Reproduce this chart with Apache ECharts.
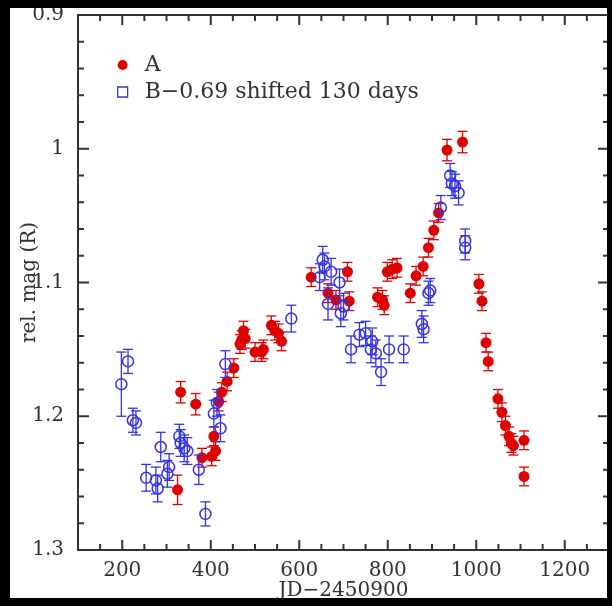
<!DOCTYPE html>
<html>
<head>
<meta charset="utf-8">
<script src="https://cdn.jsdelivr.net/npm/echarts@6/dist/echarts.min.js"></script>
<style>
  html, body { margin: 0; padding: 0; background: #000; }
  #wrap { position: relative; width: 612px; height: 606px; overflow: hidden; }
  #chart { width: 612px; height: 606px; }
  .edge { position: absolute; background: #000; z-index: 10; pointer-events: none; }
</style>
</head>
<body>
<div id="wrap">
  <div id="chart"></div>
  <!-- 外侧黑边 -->
  <div class="edge" style="left:0;top:0;width:10px;height:606px"></div>
  <div class="edge" style="left:0;top:0;width:612px;height:8px"></div>
  <div class="edge" style="left:0;top:598px;width:612px;height:8px"></div>
  <div class="edge" style="left:607px;top:0;width:5px;height:606px"></div>
</div>
<script>
// 数据：A 像 (红色实心) 与 B 像 (蓝色空心，B-0.69，平移 130 天)
var aDays = [325, 332, 366, 380, 402, 407, 411, 418, 425, 437, 452, 466, 470, 474, 478,
  500, 515, 519, 537, 545, 553, 560, 627, 665, 683, 709, 713, 777, 788, 792, 799, 810,
  821, 851, 864, 880, 892, 904, 915, 934, 969, 1006, 1013, 1022, 1027, 1049, 1058, 1066,
  1074, 1079, 1084, 1108, 1108]
var aMag = [1.255, 1.182, 1.191, 1.231, 1.230, 1.215, 1.226, 1.189, 1.182, 1.174, 1.164,
  1.146, 1.143, 1.136, 1.142, 1.152, 1.152, 1.150, 1.132, 1.136, 1.138, 1.144, 1.096,
  1.108, 1.113, 1.092, 1.114, 1.111, 1.113, 1.117, 1.092, 1.090, 1.089, 1.108, 1.095,
  1.088, 1.074, 1.061, 1.048, 1.001, 0.995, 1.101, 1.114, 1.145, 1.159, 1.187, 1.197,
  1.207, 1.215, 1.220, 1.222, 1.218, 1.245]
var aErr = [0.011, 0.008, 0.008, 0.007, 0.007, 0.007, 0.007, 0.007, 0.007, 0.007, 0.007,
  0.007, 0.007, 0.007, 0.007, 0.007, 0.007, 0.007, 0.007, 0.007, 0.007, 0.007, 0.007,
  0.007, 0.007, 0.007, 0.007, 0.007, 0.007, 0.007, 0.007, 0.007, 0.007, 0.007, 0.007,
  0.007, 0.007, 0.007, 0.007, 0.008, 0.008, 0.007, 0.007, 0.007, 0.007, 0.007, 0.007,
  0.007, 0.007, 0.007, 0.007, 0.007, 0.007]

var bDays = [198, 213, 224, 231, 254, 276, 280, 287, 302, 306, 329, 332, 340, 347, 373,
  388, 407, 414, 422, 433, 582, 646, 653, 657, 665, 672, 691, 694, 700, 717, 736, 750,
  762, 765, 773, 785, 803, 836, 877, 881, 892, 896, 920, 941, 945, 952, 960, 975, 975]
var bMag = [1.176, 1.159, 1.203, 1.205, 1.246, 1.248, 1.254, 1.223, 1.243, 1.238, 1.215,
  1.220, 1.224, 1.226, 1.240, 1.273, 1.198, 1.190, 1.209, 1.161, 1.127, 1.096, 1.083,
  1.088, 1.116, 1.092, 1.100, 1.123, 1.118, 1.150, 1.139, 1.138, 1.150, 1.144, 1.153,
  1.167, 1.150, 1.150, 1.131, 1.135, 1.108, 1.106, 1.044, 1.020, 1.026, 1.028, 1.033,
  1.069, 1.074]
var bErr = [0.024, 0.009, 0.009, 0.009, 0.010, 0.010, 0.010, 0.011, 0.010, 0.010, 0.009,
  0.010, 0.010, 0.010, 0.011, 0.009, 0.010, 0.010, 0.010, 0.010, 0.010, 0.010, 0.010,
  0.010, 0.012, 0.010, 0.010, 0.010, 0.010, 0.010, 0.009, 0.009, 0.010, 0.010, 0.010,
  0.010, 0.010, 0.010, 0.010, 0.010, 0.009, 0.009, 0.009, 0.009, 0.009, 0.009, 0.009,
  0.009, 0.009]

// 刻度值
var xMajor = [200, 400, 600, 800, 1000, 1200]
var xMinor = [150, 250, 300, 350, 450, 500, 550, 650, 700, 750, 850, 900, 950,
  1050, 1100, 1150, 1250]
var yMajor = [1.0, 1.1, 1.2]
var yMinor = [0.92, 0.94, 0.96, 0.98, 1.02, 1.04, 1.06, 1.08, 1.12, 1.14, 1.16, 1.18,
  1.22, 1.24, 1.26, 1.28]

var aName = 'A'
var bName = 'B\u22120.69 shifted 130 days'

var FONT = 'DejaVu Serif'
var RED = '#e00000'
var BLUE = '#3434e6'
var AXIS = '#333'
var X0 = 100, X1 = 1300, Y0 = 0.9, Y1 = 1.3

function pts(xs, ys) {
  return xs.map(function(x, i) { return [x, ys[i]] })
}
function errs(xs, ys, es) {
  return xs.map(function(x, i) { return [x, ys[i], es[i]] })
}

// 误差棒：竖线加上下短横
function errorBar(color) {
  return function(params, api) {
    var x = api.value(0), y = api.value(1), e = api.value(2)
    var hi = api.coord([x, y - e])
    var lo = api.coord([x, y + e])
    var w = 5
    var st = { stroke: color, lineWidth: 1.3 }
    return {
      type: 'group',
      children: [
        { type: 'line', shape: { x1: hi[0], y1: hi[1], x2: lo[0], y2: lo[1] }, style: st },
        { type: 'line', shape: { x1: hi[0] - w, y1: hi[1], x2: hi[0] + w, y2: hi[1] }, style: st },
        { type: 'line', shape: { x1: lo[0] - w, y1: lo[1], x2: lo[0] + w, y2: lo[1] }, style: st }
      ]
    }
  }
}

// 内向刻度（四边），位置由坐标轴换算
var tickStyle = { stroke: AXIS, lineWidth: 2 }
function xTick(params, api) {
  var v = api.value(0), len = api.value(2)
  var b = api.coord([v, Y1]), t = api.coord([v, Y0])
  return {
    type: 'group',
    children: [
      { type: 'line', shape: { x1: b[0], y1: b[1], x2: b[0], y2: b[1] - len }, style: tickStyle },
      { type: 'line', shape: { x1: t[0], y1: t[1], x2: t[0], y2: t[1] + len }, style: tickStyle }
    ]
  }
}
function yTick(params, api) {
  var v = api.value(1), len = api.value(2)
  var l = api.coord([X0, v]), r = api.coord([X1, v])
  return {
    type: 'group',
    children: [
      { type: 'line', shape: { x1: l[0], y1: l[1], x2: l[0] + len, y2: l[1] }, style: tickStyle },
      { type: 'line', shape: { x1: r[0], y1: r[1], x2: r[0] - len, y2: r[1] }, style: tickStyle }
    ]
  }
}
var xTickData = xMajor.map(function(v) { return [v, Y1, 10] })
  .concat(xMinor.map(function(v) { return [v, Y1, 6] }))
var yTickData = yMajor.map(function(v) { return [X0, v, 11] })
  .concat(yMinor.map(function(v) { return [X0, v, 6] }))

var myChart = echarts.init(document.getElementById('chart'))

function xAx(pos, showLabel) {
  var ax = {
    type: 'value', position: pos, min: X0, max: X1, interval: 100,
    axisLine: { show: true, onZero: false, lineStyle: { color: AXIS, width: 2 } },
    axisTick: { show: false },
    axisLabel: { show: false },
    splitLine: { show: false }
  }
  if (showLabel) {
    ax.axisLabel = {
      show: true, fontFamily: FONT, fontSize: 20, color: '#333', margin: 11,
      formatter: function(v) { return v % 200 === 0 ? String(v) : '' }
    }
    ax.name = 'JD\u22122450900'
    ax.nameLocation = 'middle'
    ax.nameGap = 31
    ax.nameMoveOverlap = false
    ax.nameTextStyle = { fontFamily: FONT, fontSize: 20, color: '#333' }
  }
  return ax
}

function yAx(pos, showLabel) {
  var ax = {
    type: 'value', position: pos, inverse: true, min: Y0, max: Y1, interval: 0.1,
    axisLine: { show: true, onZero: false, lineStyle: { color: AXIS, width: 2 } },
    axisTick: { show: false },
    axisLabel: { show: showLabel, fontFamily: FONT, fontSize: 20, color: '#333', margin: 14 },
    splitLine: { show: false }
  }
  if (showLabel) {
    ax.name = 'rel. mag (R)'
    ax.nameLocation = 'middle'
    ax.nameGap = 38
    ax.nameMoveOverlap = false
    ax.nameTextStyle = { fontFamily: FONT, fontSize: 20, color: '#333' }
  }
  return ax
}

var option = {
  backgroundColor: '#fff',
  animation: false,
  grid: { left: 78, top: 15, width: 536, height: 535 },
  legend: {
    orient: 'vertical',
    left: 112,
    top: 49,
    itemWidth: 34,
    itemHeight: 10,
    itemGap: 5,
    textStyle: { fontFamily: FONT, fontSize: 22, color: '#333' },
    data: [
      { name: aName, icon: 'circle' },
      {
        name: bName, icon: 'path://M0,0L8,0L8,8L0,8Z',
        itemStyle: { color: '#fff', borderColor: BLUE, borderWidth: 1.3 }
      }
    ]
  },
  xAxis: [xAx('bottom', true), xAx('top', false)],
  yAxis: [yAx('left', true), yAx('right', false)],
  series: [
    { type: 'custom', renderItem: xTick, data: xTickData, silent: true, clip: false, zlevel: 1, z: 50 },
    { type: 'custom', renderItem: yTick, data: yTickData, silent: true, clip: false, zlevel: 1, z: 50 },
    { type: 'custom', renderItem: errorBar(RED), data: errs(aDays, aMag, aErr), silent: true, z: 2 },
    {
      name: aName, type: 'scatter', symbol: 'circle', symbolSize: 11,
      itemStyle: { color: RED, opacity: 1 }, data: pts(aDays, aMag), z: 3
    },
    { type: 'custom', renderItem: errorBar(BLUE), data: errs(bDays, bMag, bErr), silent: true, z: 4 },
    {
      name: bName, type: 'scatter', symbol: 'circle', symbolSize: 11,
      itemStyle: { color: 'rgba(255,255,255,0)', borderColor: BLUE, borderWidth: 1.5, opacity: 1 },
      data: pts(bDays, bMag), z: 5
    }
  ]
}

myChart.setOption(option)
</script>
</body>
</html>
